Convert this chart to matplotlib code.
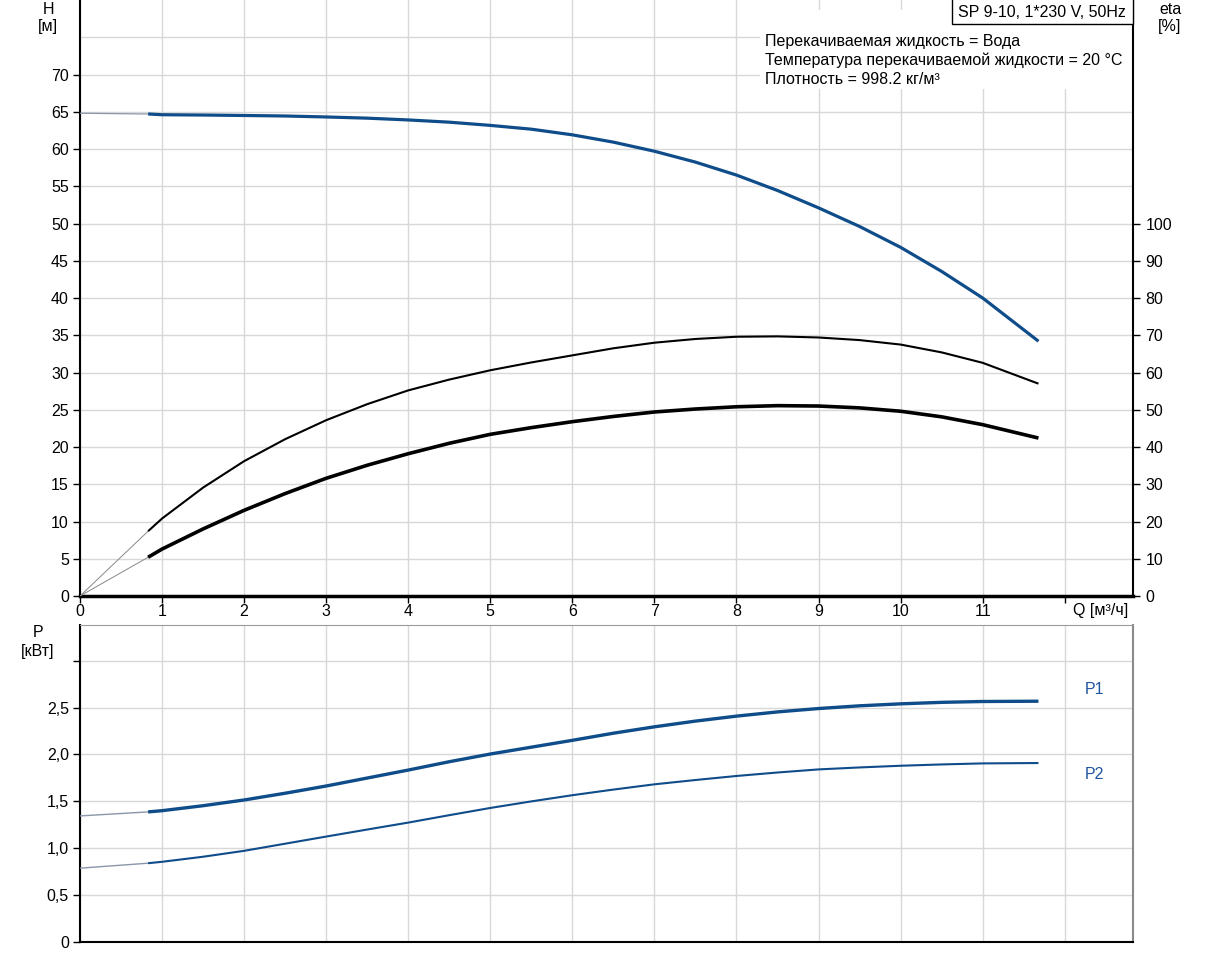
import matplotlib
matplotlib.use("Agg")
import matplotlib.pyplot as plt
from matplotlib.patches import Rectangle

plt.rcParams['font.family'] = ['Liberation Sans', 'DejaVu Sans']

# ---- data ----
q = [0.83, 1, 1.5, 2, 2.5, 3, 3.5, 4, 4.5, 5, 5.5, 6, 6.5, 7, 7.5, 8, 8.5, 9, 9.5, 10, 10.5, 11, 11.68]
head = [64.7, 64.6, 64.56, 64.5, 64.43, 64.3, 64.14, 63.9, 63.6, 63.17, 62.66, 61.9, 60.92, 59.7,
        58.24, 56.5, 54.43, 52.1, 49.6, 46.8, 43.57, 40.0, 34.2]
eta_pump = [17.4, 20.8, 29.1, 36.2, 42.1, 47.2, 51.5, 55.2, 58.1, 60.6, 62.7, 64.6, 66.5, 68.0,
            69.0, 69.6, 69.7, 69.4, 68.7, 67.5, 65.4, 62.6, 57.0]
eta_total = [10.4, 12.6, 18.0, 23.0, 27.5, 31.6, 35.1, 38.2, 41.0, 43.4, 45.2, 46.8, 48.2, 49.4,
             50.2, 50.8, 51.1, 51.0, 50.5, 49.6, 48.1, 46.0, 42.4]
p1 = [1.387, 1.40, 1.453, 1.514, 1.586, 1.663, 1.748, 1.833, 1.922, 2.004, 2.077, 2.15, 2.226, 2.294,
      2.355, 2.408, 2.453, 2.489, 2.518, 2.539, 2.555, 2.564, 2.567]
p2 = [0.84, 0.855, 0.909, 0.972, 1.048, 1.124, 1.199, 1.273, 1.352, 1.429, 1.499, 1.565, 1.625, 1.681,
      1.727, 1.770, 1.807, 1.840, 1.861, 1.879, 1.893, 1.904, 1.908]
# start values at Q = 0 (thin extension lines)
head0 = 64.8
p1_0 = 1.344
p2_0 = 0.787

x_ticks = list(range(0, 13))
x_labels = [str(i) for i in range(0, 12)] + ['']
h_ticks = list(range(0, 75, 5))
eta_ticks = list(range(0, 110, 10))
p_ticks = [0, 0.5, 1.0, 1.5, 2.0, 2.5, 3.0]
p_labels = ['0', '0,5', '1,0', '1,5', '2,0', '2,5', '']

BLUE = '#0f4c8a'
GRID = '#d8d8d8'
EXT = '#8a97aa'
FS = 11.5

W, H = 1209, 955
fig = plt.figure(figsize=(W / 100, H / 100), dpi=100)

def fx(px):
    return px / W

def fy(py):
    return 1 - py / H

L, R = 80, 1133
ax = fig.add_axes([fx(L), fy(596), fx(R - L), (596 - 0) / H])
axp = fig.add_axes([fx(L), fy(942), fx(R - L), (942 - 625) / H])

xmax = (R - L) / 82.06

# ---- top axes ----
ax.set_xlim(0, xmax)
ax.set_ylim(0, 80)
ax.set_xticks(x_ticks)
ax.set_xticklabels(x_labels)
ax.set_yticks(h_ticks)
ax.set_yticklabels([str(v) for v in h_ticks])
ax.grid(True, color=GRID, lw=1.0, zorder=0)
ax.axhline(75, color=GRID, lw=1.0, zorder=0)
ax.set_axisbelow(True)
ax.tick_params(axis='y', labelsize=FS, length=5, width=1, color='black', pad=3)
ax.tick_params(axis='x', labelsize=FS, length=5, width=1, color='black', pad=1)
for s in ['left', 'right']:
    ax.spines[s].set_color('black')
    ax.spines[s].set_linewidth(1.5)
ax.spines['bottom'].set_color('black')
ax.spines['bottom'].set_linewidth(2.5)
ax.spines['top'].set_visible(False)

ax2 = ax.twinx()
ax2.set_ylim(0, 160)
ax2.set_yticks(eta_ticks)
ax2.set_yticklabels([str(v) for v in eta_ticks])
ax2.tick_params(axis='y', labelsize=FS, length=5, width=1, pad=4)
for s in ax2.spines.values():
    s.set_visible(False)

# extensions from origin / Q=0
ax.plot([0, q[0]], [head0, head[0]], color=EXT, lw=0.9, zorder=3)
ax2.plot([0, q[0]], [0, eta_pump[0]], color='#888888', lw=0.7, zorder=3)
ax2.plot([0, q[0]], [0, eta_total[0]], color='#888888', lw=0.7, zorder=3)

ax.plot(q, head, color=BLUE, lw=2.3, zorder=4, solid_capstyle='butt', solid_joinstyle='round')
ax2.plot(q, eta_pump, color='black', lw=1.5, zorder=4, solid_capstyle='butt', solid_joinstyle='round')
ax2.plot(q, eta_total, color='black', lw=2.6, zorder=4, solid_capstyle='butt', solid_joinstyle='round')

# white area behind info text
ax.add_patch(Rectangle(((760 - L) / (R - L), 1 - 89 / 596), (R - 760) / (R - L), (89 - 10) / 596,
                       transform=ax.transAxes, facecolor='white', edgecolor='none', zorder=2))
ax.add_patch(Rectangle(((952 - L) / (R - L), 1 - 24 / 596), (R - 952) / (R - L), 24 / 596 + 0.01,
                       transform=ax.transAxes, facecolor='white', edgecolor='black', lw=1,
                       zorder=5, clip_on=False))
ax.text((958 - L) / (R - L), 1 - 12 / 596, 'SP 9-10, 1*230 V, 50Hz', transform=ax.transAxes,
        fontsize=FS, va='center', ha='left', zorder=6)
info = ['Перекачиваемая жидкость = Вода',
        'Температура перекачиваемой жидкости = 20 °C',
        'Плотность = 998.2 кг/м³']
for i, t in enumerate(info):
    ax.text((765 - L) / (R - L), 1 - (41 + 19 * i) / 596, t, transform=ax.transAxes,
            fontsize=FS, va='center', ha='left', zorder=6)

ax.text(12.1, -(610 - 596) / 7.45, 'Q [м³/ч]', fontsize=FS, ha='left', va='center')

fig.text(fx(48), fy(14), 'H', fontsize=FS, ha='center', va='baseline')
fig.text(fx(48), fy(31), '[м]', fontsize=FS, ha='center', va='baseline')
fig.text(fx(1170), fy(14), 'eta', fontsize=FS, ha='center', va='baseline')
fig.text(fx(1170), fy(31), '[%]', fontsize=FS, ha='center', va='baseline')

# ---- bottom axes ----
axp.set_xlim(0, xmax)
axp.set_ylim(0, (942 - 625) / 93.8)
axp.set_xticks(x_ticks)
axp.set_xticklabels([])
axp.tick_params(axis='x', length=0)
axp.set_yticks(p_ticks)
axp.set_yticklabels(p_labels)
axp.tick_params(axis='y', labelsize=FS, length=5, width=1, pad=3)
axp.grid(True, color=GRID, lw=1.0, zorder=0)
axp.set_axisbelow(True)
axp.spines['left'].set_color('black')
axp.spines['left'].set_linewidth(1.5)
axp.spines['bottom'].set_color('black')
axp.spines['bottom'].set_linewidth(1.5)
axp.spines['top'].set_color('#9a9a9a')
axp.spines['right'].set_color('#8a8a8a')
axp.spines['right'].set_linewidth(1.5)

axp.plot([0, q[0]], [p1_0, p1[0]], color=EXT, lw=1.0, zorder=3)
axp.plot([0, q[0]], [p2_0, p2[0]], color=EXT, lw=1.0, zorder=3)
axp.plot(q, p1, color=BLUE, lw=2.4, zorder=4, solid_capstyle='butt', solid_joinstyle='round')
axp.plot(q, p2, color=BLUE, lw=1.5, zorder=4, solid_capstyle='butt', solid_joinstyle='round')

fig.text(fx(1094), fy(690), 'P1', fontsize=FS, color='#1f55a0', ha='center', va='center')
fig.text(fx(1094), fy(774), 'P2', fontsize=FS, color='#1f55a0', ha='center', va='center')
fig.text(fx(38), fy(637), 'P', fontsize=FS, ha='center', va='baseline')
fig.text(fx(38), fy(656), '[кВт]', fontsize=FS, ha='center', va='baseline')

fig.savefig('out.png', dpi=100)
